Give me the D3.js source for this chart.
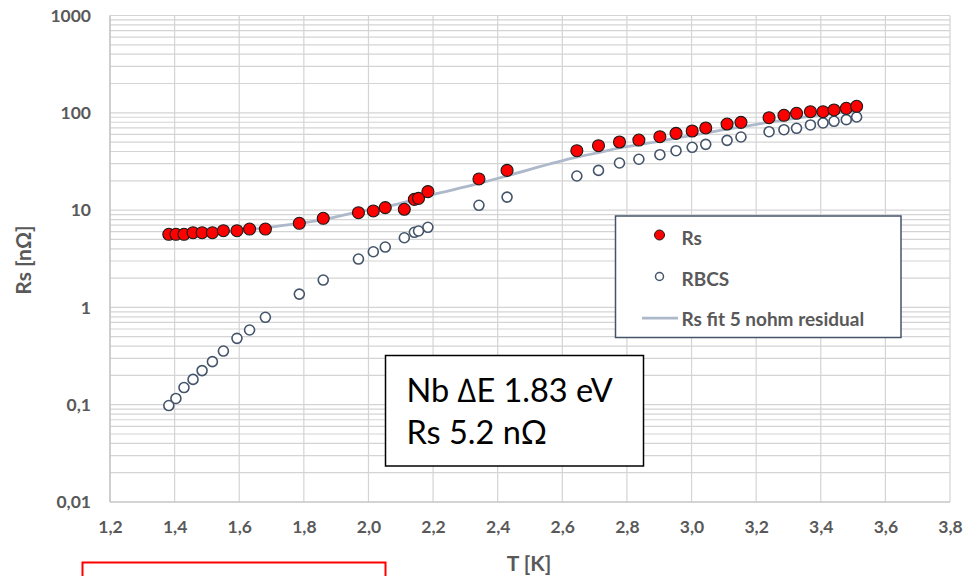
<!DOCTYPE html>
<html>
<head>
<meta charset="utf-8">
<script src="https://cdn.jsdelivr.net/npm/d3@7"></script>
<style>
  html, body { margin: 0; padding: 0; background: #ffffff; }
  svg { display: block; }
</style>
</head>
<body>
<svg id="chart" width="963" height="576"></svg>
<script>
// ---- data ----
const temperatures = [1.382, 1.404, 1.429, 1.457, 1.485, 1.517, 1.551, 1.593, 1.632, 1.681,
  1.786, 1.860, 1.969, 2.015, 2.052, 2.111, 2.142, 2.155, 2.184, 2.342, 2.429,
  2.645, 2.712, 2.777, 2.837, 2.902, 2.952, 3.002, 3.044, 3.110, 3.153,
  3.240, 3.286, 3.325, 3.368, 3.407, 3.441, 3.479, 3.511];
const rsValues = [5.64, 5.64, 5.64, 5.86, 5.86, 5.86, 6.14, 6.14, 6.39, 6.39,
  7.32, 8.24, 9.4, 9.8, 10.6, 10.2, 12.9, 13.2, 15.5, 20.9, 25.6,
  40.8, 45.9, 50.1, 52.5, 56.8, 61.5, 65.0, 69.8, 76.7, 79.8,
  89.1, 94.3, 98.8, 102.6, 102.6, 106.9, 111.2, 116.6];
const rbcsValues = [0.098, 0.116, 0.150, 0.182, 0.224, 0.277, 0.356, 0.481, 0.586, 0.791,
  1.37, 1.91, 3.14, 3.73, 4.17, 5.20, 5.91, 6.10, 6.66, 11.2, 13.6,
  22.4, 25.6, 30.5, 33.3, 37.1, 40.8, 44.2, 47.4, 52.1, 56.4,
  63.9, 67.0, 69.3, 75.0, 78.6, 81.8, 85.0, 90.5];
const fitValues = [5.5, 5.55, 5.6, 5.7, 5.75, 5.85, 5.95, 6.1, 6.3, 6.6,
  7.3, 8.0, 9.6, 10.3, 10.8, 12.0, 12.9, 13.2, 14.0, 18.8, 22.5,
  35, 39, 43.5, 47, 51, 55, 58.5, 62, 68, 71.5,
  80, 84, 88, 92, 95, 98.5, 102, 105];
const xTicks = [1.2, 1.4, 1.6, 1.8, 2.0, 2.2, 2.4, 2.6, 2.8, 3.0, 3.2, 3.4, 3.6, 3.8];
const yTicks = [0.01, 0.1, 1, 10, 100, 1000];
const yTickLabels = ["0,01", "0,1", "1", "10", "100", "1000"];
const legendLabels = ["Rs", "RBCS", "Rs fit 5 nohm residual"];
const noteLines = ["Nb \u2206E 1.83 eV", "Rs 5.2 n\u03A9"];

// ---- layout ----
const svg = d3.select("#chart");
const pLeft = 110, pRight = 950, pTop = 15.5, pBottom = 502;
const x = d3.scaleLinear().domain([1.2, 3.8]).range([pLeft, pRight]);
const y = d3.scaleLog().domain([0.01, 1000]).range([pBottom, pTop]);

const gridColor = "#d4d4d4";
const textColor = "#595959";
const fontFam = "Lato, 'Open Sans', sans-serif";

// minor y grid
const minorVals = [];
for (let e = -2; e < 3; e++) {
  for (let m = 2; m <= 9; m++) minorVals.push(m * Math.pow(10, e));
}
const grid = svg.append("g");
grid.selectAll("line.ymin").data(minorVals).enter().append("line")
  .attr("x1", pLeft).attr("x2", pRight)
  .attr("y1", d => y(d)).attr("y2", d => y(d))
  .attr("stroke", gridColor).attr("stroke-width", 1.2);
grid.selectAll("line.ymaj").data(yTicks).enter().append("line")
  .attr("x1", pLeft).attr("x2", pRight)
  .attr("y1", d => y(d)).attr("y2", d => y(d))
  .attr("stroke", gridColor).attr("stroke-width", 1.2);
grid.selectAll("line.xg").data(xTicks).enter().append("line")
  .attr("x1", d => x(d)).attr("x2", d => x(d))
  .attr("y1", pTop).attr("y2", pBottom)
  .attr("stroke", gridColor).attr("stroke-width", 1.2);

// axis lines
svg.append("line").attr("x1", pLeft).attr("x2", pLeft).attr("y1", pTop).attr("y2", pBottom)
  .attr("stroke", "#bfbfbf").attr("stroke-width", 1.2);
svg.append("line").attr("x1", pLeft).attr("x2", pRight).attr("y1", pBottom).attr("y2", pBottom)
  .attr("stroke", "#bfbfbf").attr("stroke-width", 1.2);

// axes (labels only)
const yAxis = d3.axisLeft(y).tickValues(yTicks)
  .tickFormat((d, i) => yTickLabels[i]).tickSize(0).tickPadding(19);
const gy = svg.append("g").attr("transform", `translate(${pLeft},0)`).call(yAxis);
gy.select(".domain").remove();
gy.selectAll("text").attr("fill", textColor).style("font-family", fontFam)
  .style("font-size", "17.5px").style("font-weight", "bold");

const xAxis = d3.axisBottom(x).tickValues(xTicks)
  .tickFormat(d => d3.format(".1f")(d).replace(".", ",")).tickSize(0).tickPadding(19);
const gx = svg.append("g").attr("transform", `translate(0,${pBottom})`).call(xAxis);
gx.select(".domain").remove();
gx.selectAll("text").attr("fill", textColor).style("font-family", fontFam)
  .style("font-size", "17.5px").style("font-weight", "bold");

// axis titles
svg.append("text").attr("x", 529).attr("y", 571)
  .attr("text-anchor", "middle").attr("fill", textColor)
  .style("font-family", fontFam).style("font-size", "21px").style("font-weight", "bold")
  .text("T [K]");
svg.append("text").attr("transform", `translate(31,260) rotate(-90)`)
  .attr("text-anchor", "middle").attr("fill", textColor)
  .style("font-family", fontFam).style("font-size", "21px").style("font-weight", "bold")
  .text("Rs [n\u03A9]");

// fit line
const pts = temperatures.map((t, i) => ({ t, rs: rsValues[i], rb: rbcsValues[i], fit: fitValues[i] }));
const line = d3.line().x(d => x(d.t)).y(d => y(d.fit)).curve(d3.curveMonotoneX);
svg.append("path").datum(pts).attr("d", line)
  .attr("fill", "none").attr("stroke", "#adb9ca").attr("stroke-width", 2.75);

// RBCS markers
svg.append("g").selectAll("circle").data(pts).enter().append("circle")
  .attr("cx", d => x(d.t)).attr("cy", d => y(d.rb)).attr("r", 5)
  .attr("fill", "#ffffff").attr("stroke", "#44546a").attr("stroke-width", 1.6);

// Rs markers
svg.append("g").selectAll("circle").data(pts).enter().append("circle")
  .attr("cx", d => x(d.t)).attr("cy", d => y(d.rs)).attr("r", 6)
  .attr("fill", "#ff0000").attr("stroke", "#1a1a1a").attr("stroke-width", 1.1);

// legend
const lg = svg.append("g");
lg.append("rect").attr("x", 615.5).attr("y", 216).attr("width", 285.5).attr("height", 121.5)
  .attr("fill", "#ffffff").attr("stroke", "#44546a").attr("stroke-width", 1.5);
lg.append("circle").attr("cx", 659.5).attr("cy", 235).attr("r", 5)
  .attr("fill", "#ff0000").attr("stroke", "#1a1a1a").attr("stroke-width", 1);
lg.append("circle").attr("cx", 659.5).attr("cy", 276.5).attr("r", 4)
  .attr("fill", "#ffffff").attr("stroke", "#44546a").attr("stroke-width", 1.5);
lg.append("line").attr("x1", 642).attr("x2", 678).attr("y1", 318).attr("y2", 318)
  .attr("stroke", "#adb9ca").attr("stroke-width", 2.75);
const legY = [238, 279.5, 319.5];
lg.selectAll("text").data(legendLabels).enter().append("text")
  .attr("x", 681.5).attr("y", (d, i) => legY[i]).attr("dy", "0.35em")
  .attr("fill", textColor).style("font-family", fontFam)
  .style("font-size", "19px").style("font-weight", "bold")
  .text(d => d);

// annotation box
const nb = svg.append("g");
nb.append("rect").attr("x", 385.5).attr("y", 355.5).attr("width", 258).attr("height", 110.5)
  .attr("fill", "#ffffff").attr("stroke", "#000000").attr("stroke-width", 1.5);
nb.selectAll("text").data(noteLines).enter().append("text")
  .attr("x", 406.5).attr("y", (d, i) => 401.5 + i * 42.7)
  .attr("fill", "#000000").style("font-family", fontFam).style("font-size", "32.5px")
  .text(d => d);

// red box at the bottom
svg.append("rect").attr("x", 82.5).attr("y", 562.5).attr("width", 303).attr("height", 30)
  .attr("fill", "none").attr("stroke", "#ff0000").attr("stroke-width", 2);
</script>
</body>
</html>
